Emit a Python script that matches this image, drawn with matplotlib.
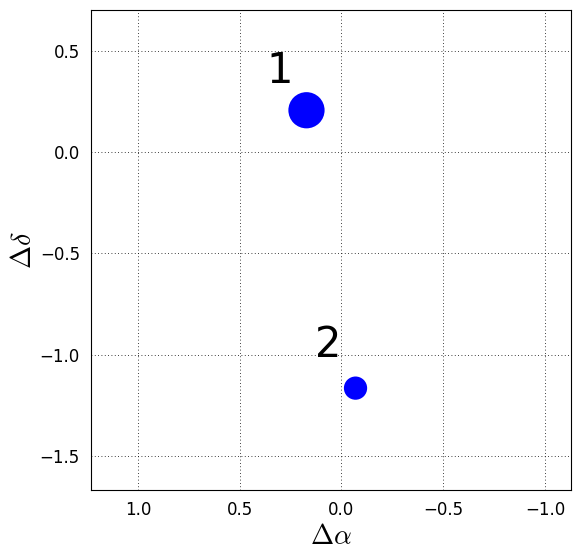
import matplotlib
matplotlib.use("Agg")
import matplotlib.pyplot as plt

plt.rcParams["mathtext.fontset"] = "cm"

dra = [0.172, -0.069]
ddec = [0.207, -1.165]
sizes = [680, 280]
labels = ["1", "2"]
label_x = [0.305, 0.064]
label_y = [0.34, -1.01]

fig = plt.figure(figsize=(5.8, 5.58), dpi=100)
ax = fig.add_axes([91/580, 1-490/558, 480/580, 480/558])
ax.scatter(dra, ddec, s=sizes, c="blue", edgecolors="none", zorder=3)
for t, x, y in zip(labels, label_x, label_y):
    ax.text(x, y, t, fontsize=30, ha="center", va="baseline")
ax.set_xlim(1.231, -1.128)
ax.set_ylim(-1.668, 0.702)
ax.set_xticks([1.0, 0.5, 0.0, -0.5, -1.0])
ax.set_yticks([0.5, 0.0, -0.5, -1.0, -1.5])
ax.grid(True, linestyle=(0, (1, 3)), color="black", linewidth=0.6)
ax.tick_params(length=0, labelsize=12, pad=8)
ax.set_xlabel(r"$\Delta\alpha$", fontsize=20, labelpad=2)
ax.set_ylabel(r"$\Delta\delta$", fontsize=20, labelpad=2)
fig.savefig("out.png", dpi=100)
